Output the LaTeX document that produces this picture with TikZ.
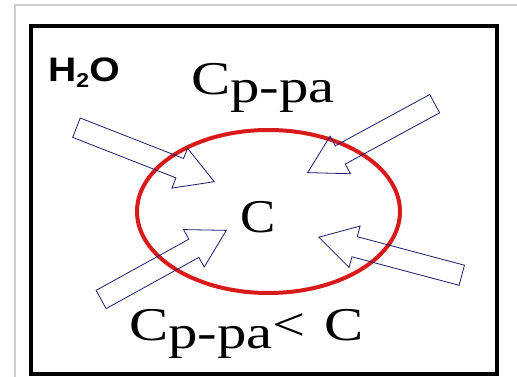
\documentclass[tikz,border=0pt]{standalone}
\usepackage{fontspec}
\setmainfont{Liberation Serif}
\newfontfamily\sansfam{Liberation Sans}
\usetikzlibrary{shapes.geometric,shapes.arrows}
\definecolor{arrowblue}{HTML}{1B1B6B}
\definecolor{cellred}{HTML}{D91A1A}
\definecolor{framegray}{HTML}{CFCFCF}
\begin{document}
\begin{tikzpicture}[x=1pt,y=-1pt,
  inflow/.style={single arrow, draw=arrowblue, line width=0.8pt, inner xsep=0pt, inner ysep=10pt,
    single arrow head extend=11pt, single arrow tip angle=60, anchor=tip},
  serlabel/.style={inner sep=0pt, xscale=1.25, font=\fontsize{47}{47}\selectfont},
]
\useasboundingbox (0,0) rectangle (517,377);
\fill[white] (0,0) rectangle (517,377);
\draw[framegray, line width=1.3pt] (15,377) -- (15,5) -- (517,5);
\draw[line width=4.5pt] (31,26) rectangle (497,374);
\node[ellipse, draw=cellred, line width=4pt, minimum width=263pt, minimum height=163pt, inner sep=0pt] (cell) at (268.5,211.5) {};
\node[serlabel, xscale=0.9, anchor=center] (conc) at (258,217) {C};
\node[inflow, minimum height=148pt, rotate=-21.4] (a1) at (215,182) {};
\node[inflow, minimum height=144.5pt, rotate=208.5] (a2) at (307,173) {};
\node[inflow, minimum height=143pt, rotate=28.9] (a3) at (227,230) {};
\node[inflow, minimum height=148pt, rotate=165.1] (a4) at (318,237) {};
\node[serlabel, anchor=base west] (toplabel) at (191,95) {C\raisebox{-8pt}{p-pa}};
\node[serlabel, anchor=base west] (botlabel) at (129,340) {C\raisebox{-8pt}{p-pa}<\hspace{0.32em}C};
\node[inner sep=0pt, anchor=base west, xscale=1.15, font=\sansfam\bfseries\fontsize{34}{34}\selectfont] (water) at (48,82) {H\raisebox{-6pt}{\fontsize{20}{20}\selectfont 2}O};
\end{tikzpicture}
\end{document}
